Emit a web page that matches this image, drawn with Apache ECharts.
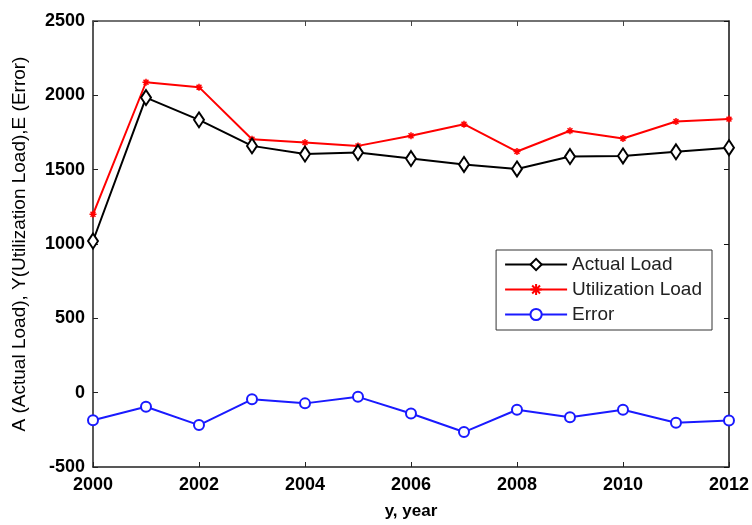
<!DOCTYPE html>
<html>
<head>
<meta charset="utf-8">
<script src="https://cdn.jsdelivr.net/npm/echarts@6/dist/echarts.min.js"></script>
<style>
html,body{margin:0;padding:0;background:#fff;}
#chart{width:752px;height:525px;}
</style>
</head>
<body>
<div id="chart"></div>
<script>
var years = [2000, 2001, 2002, 2003, 2004, 2005, 2006, 2007, 2008, 2009, 2010, 2011, 2012];
var actualLoad = [1020, 1985, 1835, 1660, 1605, 1615, 1575, 1535, 1505, 1588, 1592, 1620, 1648];
var utilizationLoad = [1200, 2088, 2055, 1705, 1682, 1660, 1728, 1806, 1622, 1762, 1710, 1824, 1840];
var errorValues = [-185, -95, -218, -45, -72, -28, -140, -265, -115, -165, -115, -202, -188];
var seriesNames = ['Actual Load', 'Utilization Load', 'Error'];

function pairs(vals) {
  return years.map(function (y, i) { return [y, vals[i]]; });
}

var chart = echarts.init(document.getElementById('chart'), null, {renderer: 'canvas'});
var tickFont = {fontFamily: 'Liberation Sans', fontWeight: 'bold', fontSize: 18, color: '#000'};
var star = 'path://M5,0L5,10M0,5L10,5M1.5,1.5L8.5,8.5M1.5,8.5L8.5,1.5';

chart.setOption({
  animation: false,
  backgroundColor: '#fff',
  grid: {left: 93, right: 21, top: 21, bottom: 48, containLabel: false},
  legend: {
    orient: 'vertical',
    right: 40,
    top: 250,
    itemWidth: 62,
    itemHeight: 14,
    itemGap: 6,
    padding: [5, 10, 6, 8],
    borderColor: '#333',
    borderWidth: 1,
    backgroundColor: '#fff',
    textStyle: {fontFamily: 'Liberation Sans', fontSize: 19, color: '#222'},
    data: seriesNames
  },
  xAxis: [{
    type: 'value', min: 2000, max: 2012, interval: 2,
    name: 'y, year', nameLocation: 'middle', nameGap: 36,
    nameTextStyle: {fontFamily: 'Liberation Sans', fontWeight: 'bold', fontSize: 17, color: '#000'},
    axisLine: {show: true, onZero: false, lineStyle: {color: '#222', width: 1.5}},
    axisTick: {show: true, inside: true, length: 5, lineStyle: {color: '#222'}},
    axisLabel: Object.assign({margin: 9, formatter: function (v) { return String(v); }}, tickFont),
    splitLine: {show: false}
  }, {
    type: 'value', position: 'top', min: 2000, max: 2012, interval: 2,
    axisLine: {show: true, onZero: false, lineStyle: {color: '#444', width: 1.5}},
    axisTick: {show: true, inside: true, length: 5, lineStyle: {color: '#444'}},
    axisLabel: {show: false},
    splitLine: {show: false}
  }],
  yAxis: [{
    type: 'value', min: -500, max: 2500, interval: 500,
    name: 'A (Actual Load), Y(Utilization Load),E (Error)',
    nameLocation: 'middle', nameGap: 64,
    nameTextStyle: {fontFamily: 'Liberation Sans', fontSize: 19, color: '#000'},
    axisLine: {show: true, onZero: false, lineStyle: {color: '#222', width: 1.5}},
    axisTick: {show: true, inside: true, length: 5, lineStyle: {color: '#222'}},
    axisLabel: Object.assign({margin: 8, formatter: function (v) { return String(v); }}, tickFont),
    splitLine: {show: false}
  }, {
    type: 'value', position: 'right', min: -500, max: 2500, interval: 500,
    axisLine: {show: true, onZero: false, lineStyle: {color: '#111', width: 1.5}},
    axisTick: {show: true, inside: true, length: 5, lineStyle: {color: '#111'}},
    axisLabel: {show: false},
    splitLine: {show: false}
  }],
  series: [{
    name: seriesNames[0], type: 'line', data: pairs(actualLoad),
    xAxisIndex: 0, yAxisIndex: 0,
    symbol: 'emptyDiamond', symbolSize: [10, 15],
    lineStyle: {color: '#000', width: 2},
    itemStyle: {color: '#000', borderWidth: 1.5},
    z: 3
  }, {
    name: seriesNames[1], type: 'line', data: pairs(utilizationLoad),
    xAxisIndex: 0, yAxisIndex: 0,
    symbol: star, symbolSize: 7,
    lineStyle: {color: '#ff0000', width: 2},
    itemStyle: {color: '#ff0000', borderColor: '#ff0000', borderWidth: 1.5},
    z: 2
  }, {
    name: seriesNames[2], type: 'line', data: pairs(errorValues),
    xAxisIndex: 0, yAxisIndex: 0,
    symbol: 'emptyCircle', symbolSize: 10,
    lineStyle: {color: '#1a1aff', width: 2},
    itemStyle: {color: '#1a1aff', borderWidth: 1.5},
    z: 2
  }]
});
</script>
</body>
</html>
